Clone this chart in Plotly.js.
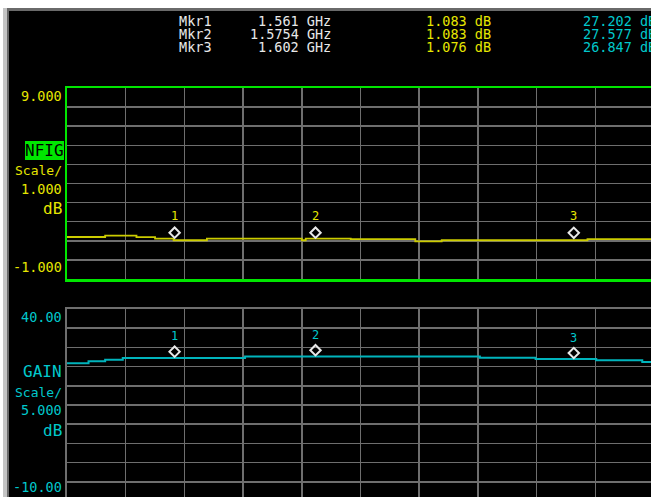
<!DOCTYPE html>
<html><head><meta charset="utf-8">
<script src="https://cdn.plot.ly/plotly-3.0.1.min.js"></script>
<style>html,body{margin:0;padding:0;background:#000;overflow:hidden;width:651px;height:497px}#chart{width:655px;height:502px}</style>
</head><body><div id="chart"></div>
<script>
// ---- data ----
const nfigFreqGHz = [1.5500, 1.5539, 1.5571, 1.5590, 1.5609, 1.5643, 1.5740, 1.5744, 1.5790, 1.5856, 1.5883, 1.6032, 1.6100];
const nfigDb      = [1.20,   1.27,   1.19,   1.11,   1.03,   1.11,   1.03,   1.11,   1.09,   0.97,   1.03,   1.09,   1.09];
const gainFreqGHz = [1.5500, 1.5522, 1.5539, 1.5557, 1.5682, 1.5922, 1.5979, 1.6041, 1.6088, 1.6100];
const gainDb      = [25.85,  26.38,  26.80,  27.25,  27.62,  27.32,  26.98,  26.63,  26.20,  26.20];
const markerNames = ['Mkr1', 'Mkr2', 'Mkr3'];
const markerNums = ['1', '2', '3'];
const markerFreqGHz = [1.561, 1.5754, 1.6018];
const markerFreqLabels = ['1.561 GHz', '1.5754 GHz', '1.602 GHz'];
const markerNfigDb = [1.083, 1.083, 1.076];
const markerGainDb = [27.202, 27.577, 26.847];
const nfigRange = [-1, 9];
const gainRange = [-10, 40];
const freqRange = [1.550, 1.610];
const nfigLabels = ['9.000', 'NFIG', 'Scale/', '1.000', 'dB', '-1.000'];
const gainLabels = ['40.00', 'GAIN', 'Scale/', '5.000', 'dB', '-10.00'];

// ---- styling / geometry ----
const W = 655, H = 502;
const px = x => x / W;
const py = y => 1 - y / H;
const YEL = '#e6e600', YEL_T = '#cccc00', CYAN = '#00c8cc', CYAN_T = '#00b4bc', GRN = '#00e600', GRID = '#6e6e6e', WHITE = '#e8e8e8';
const FONT = 'DejaVu Sans Mono, monospace';

const topDom = [py(279), py(88)];
const botDom = [py(501), py(309)];
const topPxPerUnit = (topDom[1] - topDom[0]) * H / (nfigRange[1] - nfigRange[0]);
const botPxPerUnit = (botDom[1] - botDom[0]) * H / (gainRange[1] - gainRange[0]);
const diamondLift = 6.5;

const traces = [
  {x: nfigFreqGHz, y: nfigDb, xaxis: 'x', yaxis: 'y', mode: 'lines', line: {color: YEL_T, width: 1.8, shape: 'hv'}, hoverinfo: 'skip'},
  {x: gainFreqGHz, y: gainDb, xaxis: 'x2', yaxis: 'y2', mode: 'lines', line: {color: CYAN_T, width: 2, shape: 'hv'}, hoverinfo: 'skip'},
  {x: markerFreqGHz, y: markerNfigDb.map(v => v + diamondLift / topPxPerUnit), xaxis: 'x', yaxis: 'y', mode: 'markers',
   marker: {symbol: 'diamond-open', size: 8, color: WHITE, line: {color: WHITE, width: 2}}, cliponaxis: false, hoverinfo: 'skip'},
  {x: markerFreqGHz, y: markerGainDb.map(v => v + diamondLift / botPxPerUnit), xaxis: 'x2', yaxis: 'y2', mode: 'markers',
   marker: {symbol: 'diamond-open', size: 8, color: WHITE, line: {color: WHITE, width: 2}}, cliponaxis: false, hoverinfo: 'skip'}
];

const ann = [];
function txt(x, y, text, color, size, xanchor, extra) {
  ann.push(Object.assign({xref: 'paper', yref: 'paper', x: px(x), y: py(y), text: text, showarrow: false,
    xanchor: xanchor || 'right', yanchor: 'middle', font: {family: FONT, size: size, color: color}}, extra || {}));
}
// header marker readouts
const rowY = [21.5, 34, 47];
markerNames.forEach((n, i) => {
  txt(177, rowY[i], n, WHITE, 13.5, 'left');
  txt(333, rowY[i], markerFreqLabels[i], WHITE, 13.5, 'right');
  txt(493, rowY[i], markerNfigDb[i].toFixed(3) + ' dB', YEL, 13.5, 'right');
  txt(581, rowY[i], markerGainDb[i].toFixed(3) + ' dB', CYAN, 13.5, 'left');
});
// left scale labels
const labY1 = [95.5, 150.5, 171, 189, 208, 266.5];
const labY2 = [317, 371.5, 392.5, 409.5, 430.5, 487];
const labSize = [13.5, 16, 13, 13.5, 16, 13.5];
nfigLabels.forEach((t, i) => {
  if (i === 1) txt(44.5, labY1[i], t, '#000000', 16, 'center');
  else txt(64, labY1[i], t, YEL, labSize[i], 'right');
});
gainLabels.forEach((t, i) => txt(64, labY2[i], t, CYAN, labSize[i], 'right'));
// marker numbers
markerNums.forEach((m, i) => {
  ann.push({xref: 'x', yref: 'y', x: markerFreqGHz[i], y: markerNfigDb[i], text: m, showarrow: false, yshift: 23,
    xanchor: 'center', yanchor: 'middle', font: {family: FONT, size: 12, color: YEL}});
  ann.push({xref: 'x2', yref: 'y2', x: markerFreqGHz[i], y: markerGainDb[i], text: m, showarrow: false, yshift: 22,
    xanchor: 'center', yanchor: 'middle', font: {family: FONT, size: 12, color: CYAN}});
});

const shapes = [
  {type: 'rect', xref: 'paper', yref: 'paper', x0: 0, x1: 1, y0: py(8), y1: 1, fillcolor: '#ffffff', line: {width: 0}, layer: 'below'},
  {type: 'rect', xref: 'paper', yref: 'paper', x0: 0, x1: px(3), y0: 0, y1: 1, fillcolor: '#ffffff', line: {width: 0}, layer: 'below'},
  {type: 'rect', xref: 'paper', yref: 'paper', x0: px(3), x1: px(7), y0: 0, y1: py(8), fillcolor: '#c4c4c4', line: {width: 0}, layer: 'below'},
  {type: 'rect', xref: 'paper', yref: 'paper', x0: px(7), x1: px(9), y0: 0, y1: py(8), fillcolor: '#6a6a6a', line: {width: 0}, layer: 'below'},
  {type: 'rect', xref: 'paper', yref: 'paper', x0: px(7), x1: 1, y0: py(11), y1: py(8), fillcolor: '#6a6a6a', line: {width: 0}, layer: 'below'},
  {type: 'rect', xref: 'paper', yref: 'paper', x0: px(25), x1: px(64), y0: py(160), y1: py(141), fillcolor: GRN, line: {width: 0}, layer: 'below'}
];

const xBase = {range: freqRange, tick0: freqRange[0], dtick: (freqRange[1] - freqRange[0]) / 10, showgrid: true, gridcolor: GRID, gridwidth: 1.5,
  showticklabels: false, ticks: '', zeroline: false, showline: true, mirror: true, linewidth: 2, fixedrange: true, domain: [px(67), px(654)]};
const layout = {
  width: W, height: H, margin: {l: 0, r: 0, t: 0, b: 0}, paper_bgcolor: '#000000', plot_bgcolor: '#000000', showlegend: false,
  xaxis: Object.assign({}, xBase, {anchor: 'y', linecolor: GRN, linewidth: 2.5}),
  yaxis: {domain: topDom, range: nfigRange, dtick: 1, tick0: 0, showgrid: true, gridcolor: GRID, gridwidth: 1.5, showticklabels: false, ticks: '',
    zeroline: false, showline: true, mirror: true, linecolor: GRN, linewidth: 2.5, anchor: 'x', fixedrange: true},
  xaxis2: Object.assign({}, xBase, {anchor: 'y2', linecolor: GRID}),
  yaxis2: {domain: botDom, range: gainRange, dtick: 5, tick0: 0, showgrid: true, gridcolor: GRID, gridwidth: 1.5, showticklabels: false, ticks: '',
    zeroline: false, showline: true, mirror: true, linecolor: GRID, linewidth: 2, anchor: 'x2', fixedrange: true},
  annotations: ann, shapes: shapes
};
Plotly.newPlot('chart', traces, layout, {staticPlot: true, displayModeBar: false});
</script></body></html>
